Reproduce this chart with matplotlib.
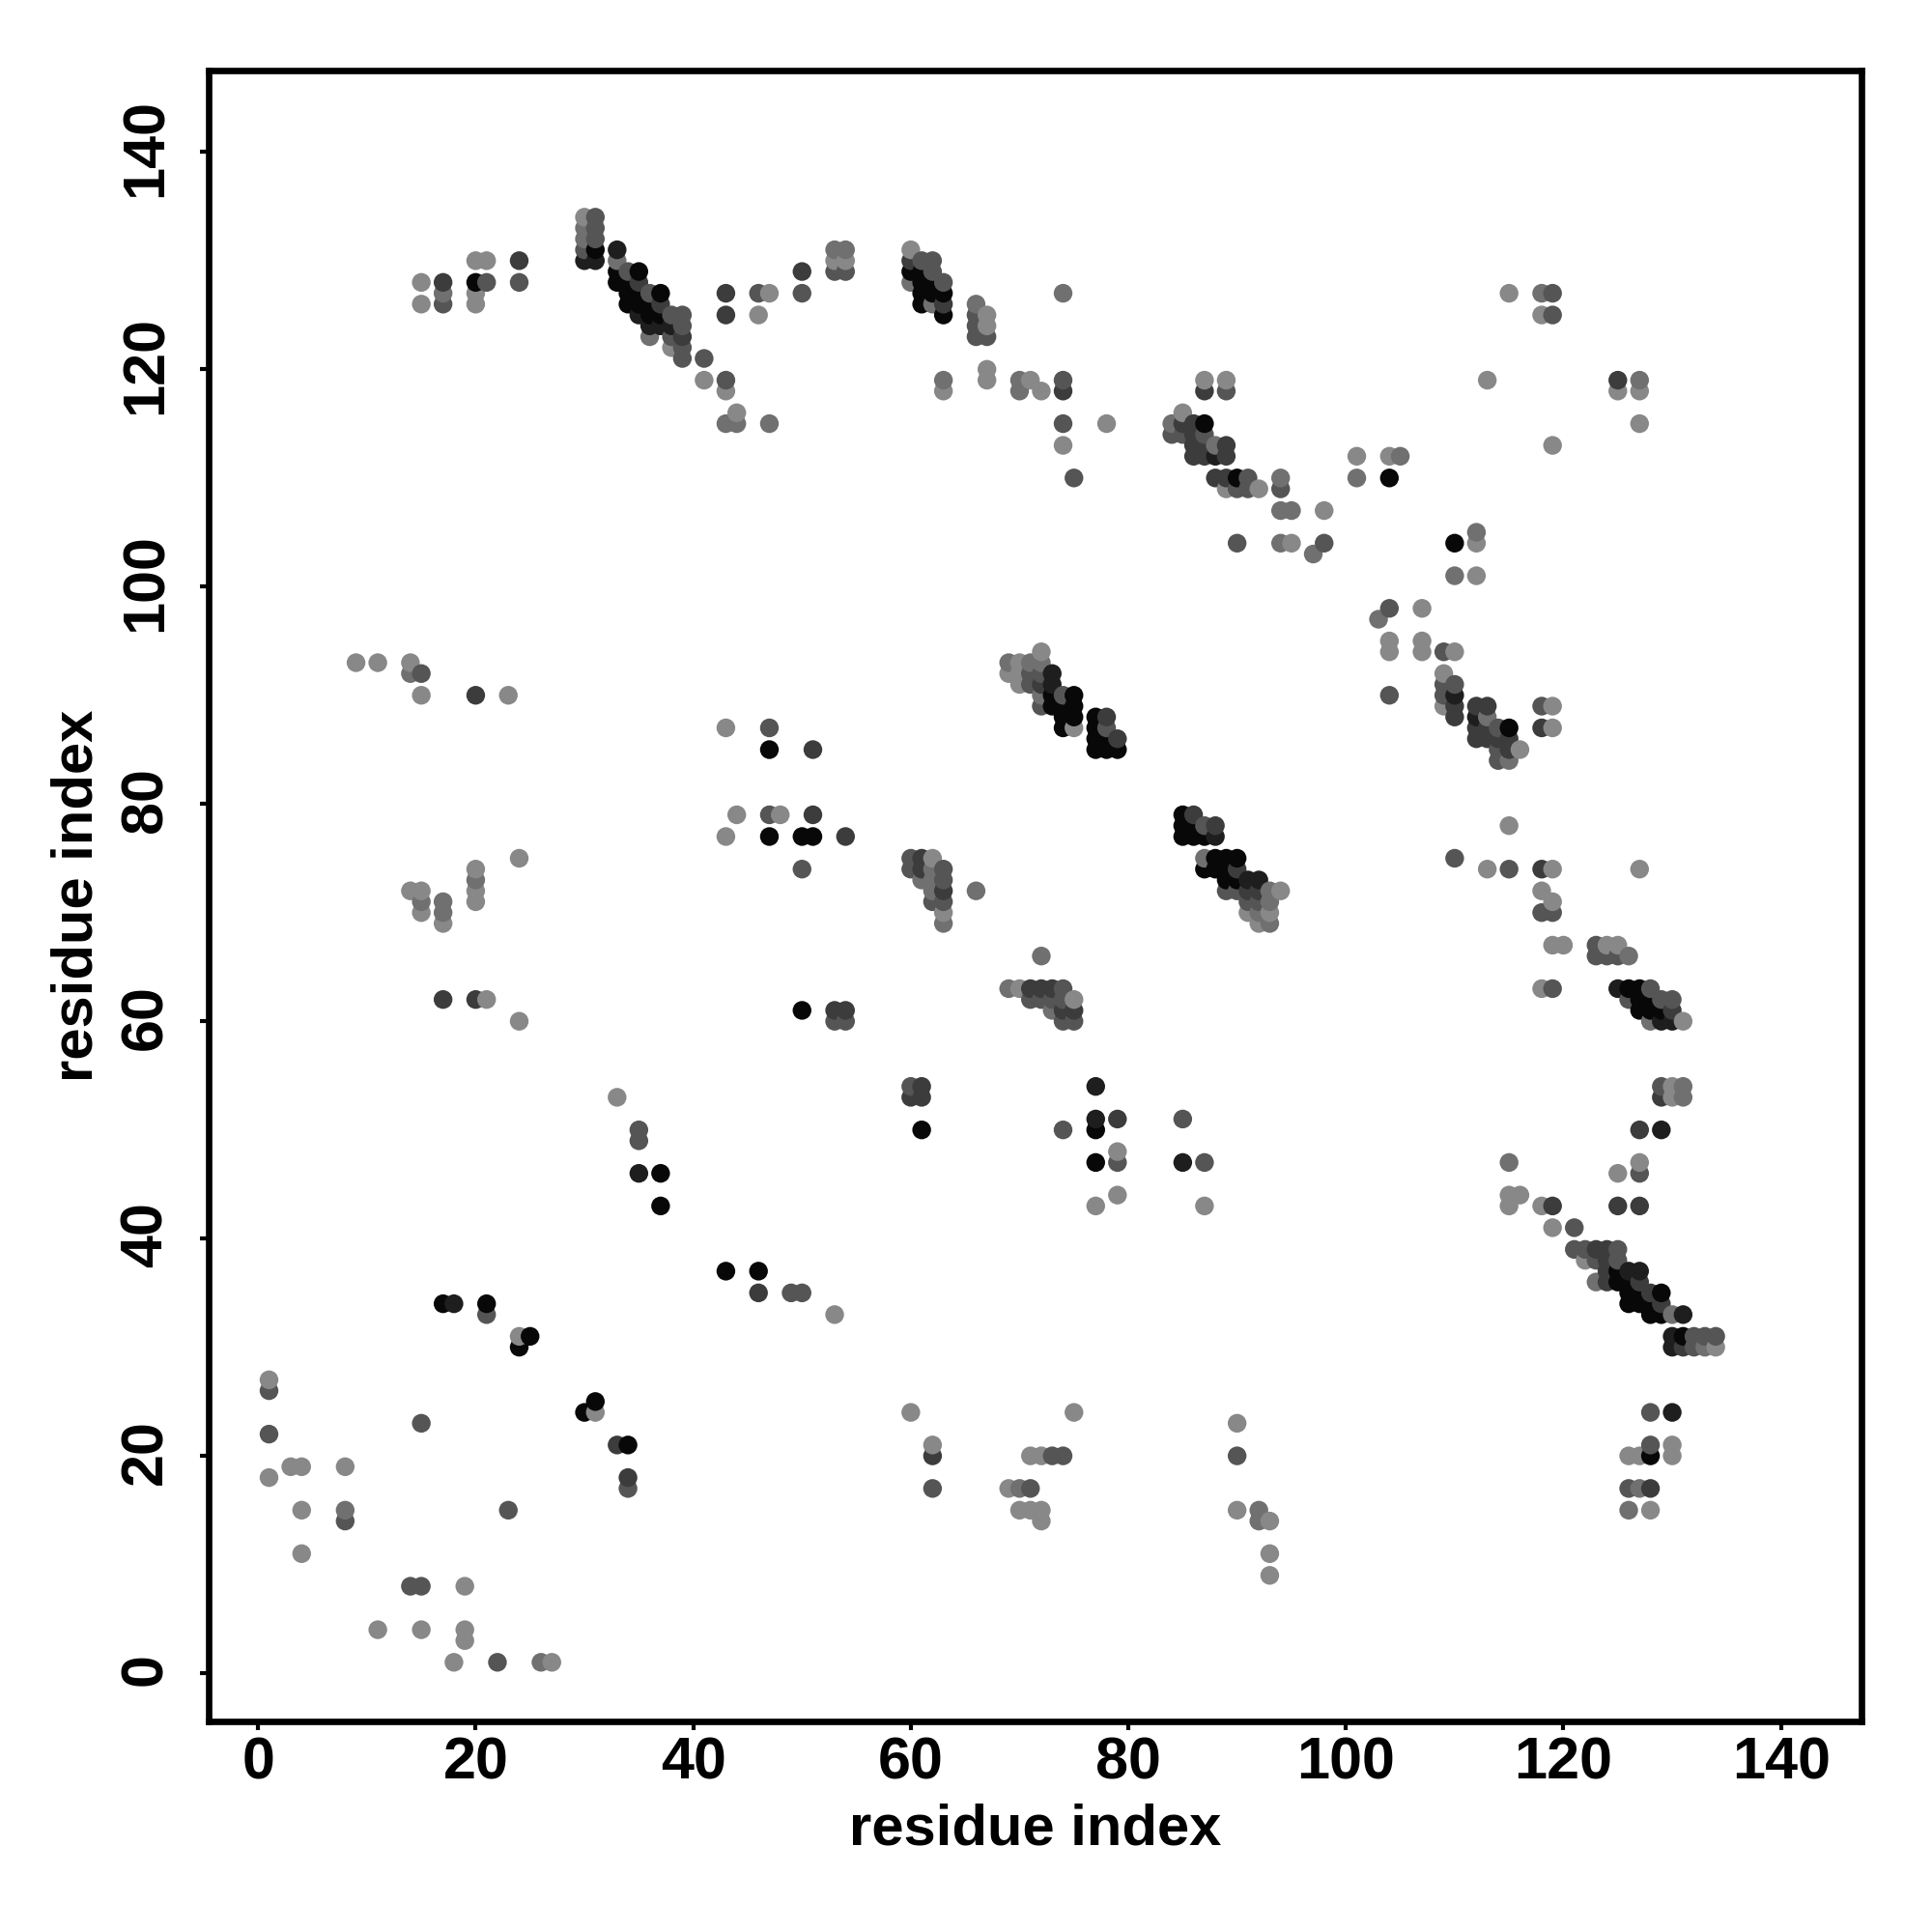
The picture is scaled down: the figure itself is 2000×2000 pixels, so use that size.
import matplotlib
matplotlib.use("Agg")
import matplotlib.pyplot as plt
from matplotlib.transforms import ScaledTranslation

x_label = "residue index"
y_label = "residue index"
tick_values = [0, 20, 40, 60, 80, 100, 120, 140]
shade_gray = {"B": 8, "K": 30, "D": 60, "M": 85, "G": 112, "L": 136}

col_x = [1, 3, 4, 8, 9, 11, 14, 15, 17, 18, 19, 20, 21, 22, 23, 24, 25, 26, 27,
         30, 31, 33, 34, 35, 36, 37, 38, 39, 41, 43, 44, 46, 47, 48, 49, 50, 51, 53, 54,
         60, 61, 62, 63, 66, 67, 69, 70, 71, 72, 73, 74, 75, 77, 78, 79,
         84, 85, 86, 87, 88, 89, 90, 91, 92, 93, 94, 95, 97, 98,
         101, 103, 104, 105, 107, 109, 110, 112, 113, 114, 115, 116, 118, 119,
         120, 121, 122, 123, 124, 125, 126, 127, 128, 129, 130, 131, 132, 133, 134]

col_y = [
    [18, 22, 26, 27], [19], [11, 15, 19], [14, 15, 19], [93], [4, 93],
    [8, 72, 92, 93], [4, 8, 23, 70, 71, 72, 90, 92, 126, 128],
    [34, 62, 69, 70, 71, 126, 127, 128], [1, 34], [3, 4, 8],
    [62, 71, 72, 73, 74, 90, 126, 127, 128, 130], [33, 34, 62, 128, 130], [1], [15, 90],
    [30, 31, 60, 75, 128, 130], [31], [1], [1],
    [24, 130, 131, 132, 133, 134], [24, 25, 130, 131, 132, 133, 134],
    [21, 53, 128, 129, 130, 131], [17, 18, 21, 126, 127, 128, 129],
    [46, 49, 50, 125, 126, 127, 128, 129], [123, 124, 125, 126, 127],
    [43, 46, 124, 125, 126, 127], [122, 123, 124, 125], [121, 122, 123, 124, 125],
    [119, 121], [37, 77, 87, 115, 118, 119, 125, 127], [79, 115, 116], [35, 37, 125, 127],
    [77, 79, 85, 87, 115, 127], [79], [35], [35, 61, 74, 77, 127, 129], [77, 79, 85],
    [33, 60, 61, 129, 130, 131], [60, 61, 77, 129, 130, 131],
    [24, 53, 54, 74, 75, 128, 129, 130, 131],
    [50, 53, 54, 73, 74, 75, 126, 127, 128, 129, 130],
    [17, 20, 21, 71, 72, 73, 74, 75, 126, 127, 128, 129, 130],
    [69, 70, 71, 72, 73, 74, 118, 119, 125, 126, 127, 128],
    [72, 123, 124, 125, 126], [119, 120, 123, 124, 125],
    [17, 63, 92, 93], [15, 17, 63, 91, 92, 93, 118, 119],
    [15, 17, 20, 62, 63, 91, 92, 93, 119],
    [14, 15, 20, 62, 63, 66, 89, 90, 91, 92, 93, 94, 118],
    [20, 61, 62, 63, 89, 90, 91, 92],
    [20, 50, 60, 61, 62, 63, 87, 88, 89, 90, 113, 115, 118, 119, 127],
    [24, 60, 61, 62, 87, 88, 89, 90, 110],
    [43, 47, 50, 51, 54, 85, 86, 87, 88], [85, 86, 87, 88, 115], [44, 47, 48, 51, 85, 86],
    [114, 115], [47, 51, 77, 78, 79, 114, 115, 116], [77, 78, 79, 112, 113, 114, 115],
    [43, 47, 74, 75, 77, 78, 112, 113, 114, 115, 118, 119],
    [74, 75, 77, 78, 110, 112, 113],
    [72, 73, 74, 75, 109, 110, 112, 113, 118, 119],
    [15, 20, 23, 72, 73, 74, 75, 104, 109, 110],
    [70, 71, 72, 73, 109, 110], [14, 15, 69, 70, 71, 72, 73, 109],
    [9, 11, 14, 69, 70, 71, 72], [72, 104, 107, 109, 110], [104, 107], [103], [104, 107],
    [110, 112], [97], [90, 94, 95, 98, 110, 112], [112], [94, 95, 98],
    [89, 90, 91, 92, 94], [75, 88, 89, 90, 91, 94, 101, 104],
    [86, 87, 88, 89, 101, 104, 105], [74, 86, 87, 88, 89, 119], [84, 85, 86, 87],
    [43, 44, 47, 74, 78, 84, 85, 86, 87, 127], [44, 85],
    [43, 63, 70, 72, 74, 87, 89, 125, 127],
    [41, 43, 63, 67, 70, 71, 74, 87, 89, 113, 125, 127],
    [67], [39, 41], [38, 39], [36, 38, 39, 66, 67], [36, 37, 38, 39, 66, 67],
    [36, 37, 38, 39, 43, 46, 63, 66, 67, 118, 119],
    [15, 17, 20, 34, 35, 36, 37, 62, 63, 66],
    [17, 20, 34, 35, 36, 37, 43, 46, 47, 50, 61, 62, 63, 74, 115, 118, 119],
    [15, 17, 20, 21, 24, 33, 34, 35, 60, 61, 62, 63],
    [33, 34, 35, 50, 53, 54, 60, 61, 62],
    [20, 21, 24, 30, 31, 33, 53, 54, 60, 61, 62],
    [30, 31, 33, 53, 54, 60], [30, 31], [30, 31], [30, 31],
]

col_shade = [
    "LMML", "L", "LLL", "MGL", "L", "LL",
    "MLGL", "LMMLGLLMLL",
    "BDLGGMGD", "LK", "LLL",
    "DLLGLDLLBL", "MBLML", "M", "ML",
    "BLLLMD", "B", "G", "L",
    "BKMGGL", "LBKBMMM",
    "DLBBGK", "MDBBBBM",
    "KMMKBBDB", "GKBBM",
    "BBKBDB", "LMKM", "MMDMM",
    "LM", "BLLGLMDD", "LGL", "DBLM",
    "BMBMGL", "L", "M", "MBMBMD", "BDD",
    "LMDMLG", "MDDMLG",
    "LDMMMGBDL",
    "BDDGDDBBBBM",
    "MDLMGGGLGBBMM",
    "GLMDMMLGBDBM",
    "GMMMG", "LLMLL",
    "LGLG", "LGLLLLGG",
    "LMLMDMMGL",
    "LLLMDGMGDMGLL",
    "MGMDBBKK",
    "MMMDMMBBBMLMDMG",
    "LMDLLBBBM",
    "LBBKKBBBB", "BBMDL", "LMLDBD",
    "MG", "KMBBBMDL", "BBDDDDD",
    "LMBGBMDDMBDL",
    "BBKDDKG",
    "MBBBLDDDML",
    "LMLMBDBMMB",
    "LMDKMM", "GGLGMDKL",
    "LLLGLGG", "LGGMG", "LG", "G", "ML",
    "GL", "G", "MLLMBL", "G", "LLL",
    "LMMLM", "MDDKMLGB",
    "DDKDLLG", "LDDGDL", "MMDM",
    "LLGMLGDDBL", "LL",
    "LLMLDDMLG",
    "LDMLMLLLLLMM",
    "L", "MM", "LM", "GMDMM", "DDDDML",
    "BBMMDLKMLLD",
    "GMLBBBKMBG",
    "GLBBDKDMLDBBBLLLG",
    "LDBMMBBDGBBM",
    "BDBKDMKBM",
    "LLKKKGLLKDM",
    "DBKGGL", "MM", "GM", "LM",
]

assert len(col_x) == len(col_y) == len(col_shade)
for ys, ss in zip(col_y, col_shade):
    assert len(ys) == len(ss), (ys, ss)

xs, ys, colors = [], [], []
for x, col, shades in zip(col_x, col_y, col_shade):
    for y, s in zip(col, shades):
        g = shade_gray[s] / 255
        xs.append(x)
        ys.append(y)
        colors.append((g, g, g))

plt.rcParams["font.family"] = ["Liberation Sans", "DejaVu Sans"]
plt.rcParams["font.weight"] = "bold"
plt.rcParams["ytick.alignment"] = "center"

fig = plt.figure(figsize=(20, 20), dpi=100, facecolor="white")
ax = fig.add_axes([216 / 2000, 218 / 2000, 1711 / 2000, 1709 / 2000])
ax.scatter(xs, ys, s=195, c=colors, linewidths=0, zorder=3)
ax.set_xlim(-4.55, 147.4)
ax.set_ylim(-4.44, 147.5)
ax.set_xticks(tick_values)
ax.set_yticks(tick_values)
ax.tick_params(axis="both", length=6.5, width=3, color="black", labelsize=44)
ax.tick_params(axis="x", pad=5)
ax.tick_params(axis="y", pad=19)
lift = ScaledTranslation(0, 3 / 72, fig.dpi_scale_trans)
for lab in ax.get_yticklabels():
    lab.set_rotation(90)
    lab.set_va("center")
    lab.set_transform(lab.get_transform() + lift)
for sp in ax.spines.values():
    sp.set_linewidth(4.8)
ax.set_xlabel(x_label, fontsize=43, fontweight="bold")
ax.set_ylabel(y_label, fontsize=43, fontweight="bold")
ax.xaxis.label.set_va("center")
ax.yaxis.label.set_va("center")
ax.xaxis.set_label_coords(0.5, -(1894 - 1782) / 1709, transform=ax.transAxes)
ax.yaxis.set_label_coords((80 - 216) / 1711, 0.5, transform=ax.transAxes)
fig.savefig("out.png", dpi=100, facecolor="white")
